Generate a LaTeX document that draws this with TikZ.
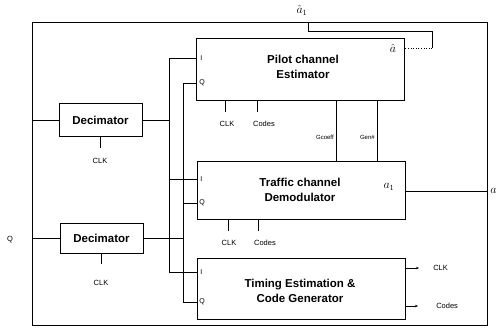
\documentclass[tikz,border=0pt]{standalone}
\usepackage{fontspec}
\setmainfont{Liberation Sans}
\usetikzlibrary{arrows.meta}
\begin{document}
\begin{tikzpicture}[x=1pt,y=-1pt,line width=0.6pt,
  blk/.style={draw,rectangle,inner sep=0pt},
  txt/.style={inner sep=0pt,font=\bfseries\fontsize{11.5}{14.5}\selectfont,align=center},
  sm/.style={font=\fontsize{7.5}{8}\selectfont,inner sep=1pt},
  pin/.style={font=\fontsize{7}{8}\selectfont,inner sep=0pt,anchor=west},
  sym/.style={font=\fontsize{12}{12}\selectfont,inner sep=0pt}]
\useasboundingbox (0,0) rectangle (500,329);
% blocks
\node[blk,txt,minimum width=83pt,minimum height=33pt] (dec1) at (100.5,120) {Decimator};
\node[blk,txt,minimum width=83pt,minimum height=30pt] (dec2) at (101.5,238) {Decimator};
\node[blk,minimum width=208pt,minimum height=62pt] (pil) at (300,69) {};
\node[txt] (pilt) at (303,67) {Pilot channel\\Estimator};
\node[blk,minimum width=208pt,minimum height=58pt] (tra) at (301,190) {};
\node[txt] (trat) at (300,190) {Traffic channel\\Demodulator};
\node[blk,minimum width=208pt,minimum height=61pt] (tim) at (301,288.5) {};
\node[txt] (timt) at (300,291) {Timing Estimation \&\\Code Generator};
% outer frame
\coordinate (fTL) at (32,22);
\coordinate (fTR) at (487,22);
\coordinate (fBR) at (487,325);
\coordinate (fBL) at (32,325);
\draw (fTL) -- (fTR) -- (fBR) -- (fBL) -- cycle;
\node[sm] (qin) at (10,240) {Q};
% inputs to decimators
\coordinate (f1) at (32,120);
\coordinate (f2) at (32,238);
\draw (f1) -- (dec1.west);
\draw (f2) -- (dec2.west);
% buses
\coordinate (ib1) at (169,58);
\coordinate (ib2) at (169,120);
\coordinate (ib3) at (169,179);
\coordinate (ib4) at (169,272);
\coordinate (qb1) at (183,83);
\coordinate (qb2) at (183,238);
\coordinate (qb3) at (183,203);
\coordinate (qb4) at (183,302);
\draw (dec1.east) -- (ib2);
\draw (dec2.east) -- (qb2);
\draw (ib1) -- (ib4);
\draw (qb1) -- (qb4);
\draw (ib1) -- (ib1 -| pil.west);
\draw (ib3) -- (ib3 -| tra.west);
\draw (ib4) -- (ib4 -| tim.west);
\draw (qb1) -- (qb1 -| pil.west);
\draw (qb3) -- (qb3 -| tra.west);
\draw (qb4) -- (qb4 -| tim.west);
% pin labels
\node[pin] at (200,58) {I};
\node[pin] at (199,83) {Q};
\node[pin] at (200,179) {I};
\node[pin] at (199,203) {Q};
\node[pin] at (200,272) {I};
\node[pin] at (199,302) {Q};
% decimator clocks
\node[sm] (c1) at (100,161) {CLK};
\node[sm] (c2) at (101,283) {CLK};
\draw (dec1.south) -- ++(0,11);
\draw (dec2.south) -- ++(0,11);
% pilot clocks / codes
\coordinate (pc) at (225,100);
\coordinate (pd) at (257,100);
\draw (pc) -- ++(0,12);
\draw (pd) -- ++(0,12);
\node[sm] at (227,124) {CLK};
\node[sm] at (264,124) {Codes};
% traffic clocks / codes
\coordinate (tc) at (228,219);
\coordinate (td) at (258,219);
\draw (tc) -- ++(0,12);
\draw (td) -- ++(0,12);
\node[sm] at (229,243) {CLK};
\node[sm] at (265,243) {Codes};
% coefficient lines
\coordinate (g1) at (336,100);
\coordinate (g2) at (377,100);
\draw (g1) -- (g1 |- tra.north);
\draw (g2) -- (g2 |- tra.north);
\node[sm,anchor=east,font=\fontsize{6}{6}\selectfont] at (335,137) {Gcoeff};
\node[sm,anchor=east,font=\fontsize{6}{6}\selectfont] at (376,137) {Gen\#};
% traffic output
\coordinate (to) at (405,191);
\draw (to) -- (to -| fBR);
\node[sym] at (389,187) {$a_1$};
\node[sym,anchor=west] at (490,191) {$a$};
% timing outputs
\coordinate (tk) at (405,268);
\coordinate (tq) at (405,306);
\draw[-{Stealth[length=3pt,width=2.5pt]}] (tk) -- ++(14,0);
\draw[-{Stealth[length=3pt,width=2.5pt]}] (tq) -- ++(13,0);
\node[sm,anchor=west] at (432,268) {CLK};
\node[sm,anchor=west] at (435,306) {Codes};
% feedback
\coordinate (fb1) at (308,22);
\coordinate (fb2) at (308,31);
\coordinate (fb3) at (432,31);
\coordinate (fb4) at (432,48);
\coordinate (fb5) at (404,48);
\draw (fb1) -- (fb2) -- (fb3) -- (fb4);
\draw[dotted] (fb4) -- (fb5);
\node[sym] at (302,10) {$\hat{a}_1$};
\node[sym] at (393,48) {$\hat{a}$};
\end{tikzpicture}
\end{document}
